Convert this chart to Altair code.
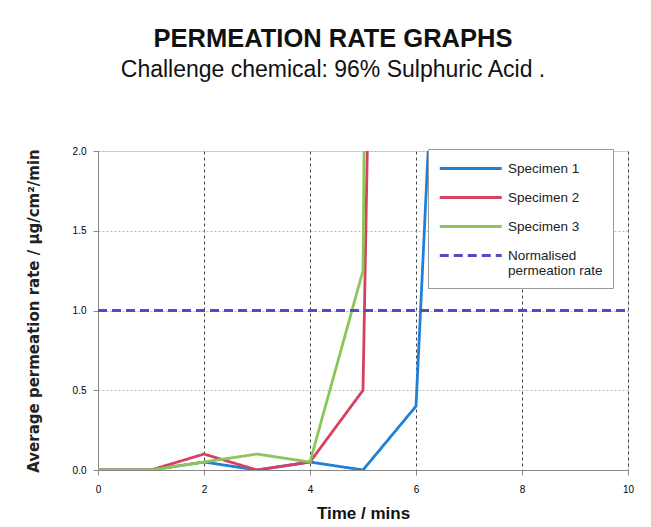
import altair as alt
import pandas as pd

# ---- data ----
time_s1 = [0, 1, 2, 3, 4, 5, 6, 7]
spec1 = [0.0, 0.0, 0.05, 0.0, 0.05, 0.0, 0.4, 7.4]
time_s2 = [0, 1, 2, 3, 4, 5, 6]
spec2 = [0.0, 0.0, 0.1, 0.0, 0.05, 0.5, 19.0]
time_s3 = [0, 1, 2, 3, 4, 5, 6]
spec3 = [0.0, 0.0, 0.05, 0.1, 0.05, 1.25, 38.0]
time_norm = [0, 10]
norm_rate = [1.0, 1.0]

series_names = ["Specimen 1", "Specimen 2", "Specimen 3", "Normalised permeation rate"]
series_colors = ["#1f80d6", "#d5425f", "#8cc65a", "#5549c8"]
series_dash = [[1, 0], [1, 0], [1, 0], [9, 5]]
series_width = [2.8, 2.8, 2.8, 4.0]

rows = []
for name, xs, ys in zip(series_names,
                        [time_s1, time_s2, time_s3, time_norm],
                        [spec1, spec2, spec3, norm_rate]):
    for x, y in zip(xs, ys):
        rows.append({"series": name, "time": x, "rate": y})
df = pd.DataFrame(rows)

legend = alt.Legend(
    title=None, orient="none", legendX=330, legendY=-2,
    symbolType="M-1,0H7", symbolSize=240,
    labelFont="Liberation Sans", labelFontSize=13.5,
    labelColor="#222", labelLimit=220,
    labelExpr="datum.label == 'Normalised permeation rate' ? ['Normalised', 'permeation rate'] : datum.label",
    fillColor="white", strokeColor="#999999",
    padding=10, rowPadding=13, labelOffset=51,
)

lines = alt.Chart(df).mark_line(clip=True).encode(
    x=alt.X("time:Q",
            scale=alt.Scale(domain=[0, 10], nice=False),
            axis=alt.Axis(title="Time / mins", values=[0, 2, 4, 6, 8, 10],
                          gridColor="#444", gridDash=[3, 3], gridWidth=1,
                          labelPadding=9, labelFlush=False,
                          titleFont="Liberation Sans", titleFontSize=17,
                          titleFontWeight="bold", titleColor="#111",
                          titlePadding=11)),
    y=alt.Y("rate:Q",
            scale=alt.Scale(domain=[0, 2], nice=False),
            axis=alt.Axis(title="Average permeation rate / µg/cm²/min",
                          values=[0, 0.5, 1.0, 1.5, 2.0], format=".1f",
                          gridColor="#bbbbbb", gridDash=[2, 2], gridWidth=1,
                          labelPadding=7,
                          titleFont="DejaVu Sans", titleFontSize=15,
                          titleFontWeight="bold", titleColor="#222",
                          titlePadding=31)),
    color=alt.Color("series:N",
                    scale=alt.Scale(domain=series_names, range=series_colors),
                    legend=legend),
    strokeDash=alt.StrokeDash("series:N",
                              scale=alt.Scale(domain=series_names, range=series_dash),
                              legend=legend),
    strokeWidth=alt.StrokeWidth("series:N",
                                scale=alt.Scale(domain=series_names, range=series_width),
                                legend=legend),
    detail="series:N",
)

chart = lines.properties(
    width=530,
    height=319,
    title=alt.TitleParams(
        text="PERMEATION RATE GRAPHS",
        subtitle="Challenge chemical: 96% Sulphuric Acid .",
        anchor="middle", frame="group", dx=-30, offset=64,
        font="Liberation Sans", fontSize=25.5, fontWeight="bold", color="#111",
        subtitleFont="Liberation Sans", subtitleFontSize=23,
        subtitleColor="#111", subtitlePadding=7,
    ),
    autosize=alt.AutoSizeParams(type="none"),
    padding={"left": 98, "top": 151, "right": 23, "bottom": 57},
).configure_view(
    stroke="#999999", strokeWidth=1
).configure_axis(
    labelFont="DejaVu Sans", labelFontSize=12, labelColor="#444",
    domainColor="#777", tickColor="#777", tickSize=4,
).configure(background="white")

chart.save("out.html", embed_options={"renderer": "svg", "actions": False})
